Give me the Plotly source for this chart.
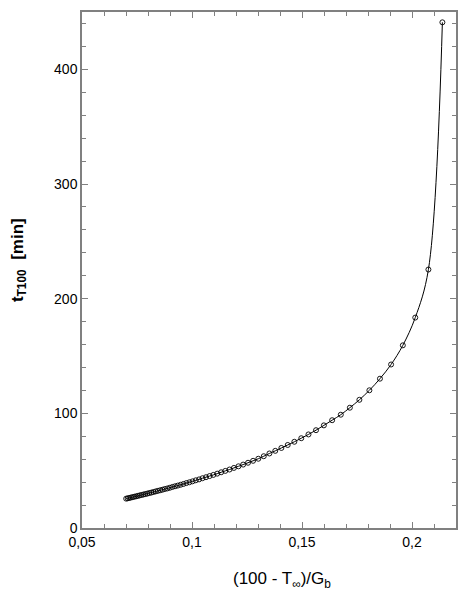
import plotly.graph_objects as go

x_vals = [0.07008, 0.07079, 0.07151, 0.07225, 0.07301, 0.07378, 0.07457, 0.07537,
          0.07619, 0.07703, 0.07789, 0.07877, 0.07967, 0.08059, 0.08153, 0.08249,
          0.08348, 0.08449, 0.08552, 0.08658, 0.08767, 0.08878, 0.08993, 0.09110,
          0.09230, 0.09354, 0.09481, 0.09611, 0.09746, 0.09884, 0.10025, 0.10171,
          0.10322, 0.10477, 0.10636, 0.10801, 0.10970, 0.11145, 0.11326, 0.11513,
          0.11706, 0.11905, 0.12112, 0.12325, 0.12547, 0.12776, 0.13014, 0.13262,
          0.13518, 0.13785, 0.14063, 0.14352, 0.14653, 0.14967, 0.15294, 0.15637,
          0.15995, 0.16370, 0.16763, 0.17175, 0.17608, 0.18063, 0.18543, 0.19049,
          0.19583, 0.20148, 0.20746, 0.21381]

t_vals = [25.6, 25.9, 26.2, 26.6, 26.9, 27.3, 27.6, 28.0,
          28.4, 28.8, 29.2, 29.6, 30.0, 30.5, 30.9, 31.4,
          31.9, 32.4, 32.9, 33.4, 34.0, 34.5, 35.1, 35.8,
          36.4, 37.0, 37.7, 38.4, 39.2, 39.9, 40.7, 41.6,
          42.4, 43.4, 44.3, 45.3, 46.3, 47.4, 48.6, 49.8,
          51.0, 52.4, 53.8, 55.3, 56.9, 58.6, 60.4, 62.6,
          65.0, 67.3, 69.8, 72.4, 75.2, 78.3, 81.6, 85.3,
          89.5, 94.0, 98.8, 104.9, 111.8, 120.1, 130.2, 142.6,
          159.3, 183.5, 225.4, 441.0]

x_ticks = [0.05, 0.1, 0.15, 0.2]
x_ticklabels = ["0,05", "0,1", "0,15", "0,2"]
y_ticks = [0, 100, 200, 300, 400]

fig = go.Figure()
fig.add_trace(go.Scatter(
    x=x_vals, y=t_vals, mode="lines+markers",
    line=dict(color="black", width=1, shape="spline"),
    marker=dict(symbol="circle-open", size=5, color="black", line=dict(width=0.9)),
    showlegend=False,
))

axis_common = dict(
    showgrid=False, zeroline=False, showline=True, linecolor="#808080", linewidth=1.5,
    mirror="ticks", ticks="inside", ticklen=6, tickwidth=1, tickcolor="#808080",
    tickfont=dict(family="Liberation Sans, Arial, sans-serif", size=14, color="black"),
)

fig.update_xaxes(range=[0.05, 0.22], tickvals=x_ticks, ticktext=x_ticklabels,
                 minor=dict(dtick=0.01, ticks="inside", ticklen=4, tickcolor="#808080", tickwidth=1),
                 **axis_common)
fig.update_yaxes(range=[0, 450], tickvals=y_ticks,
                 minor=dict(dtick=20, ticks="inside", ticklen=4, tickcolor="#808080", tickwidth=1),
                 **axis_common)

fig.add_annotation(
    text="(100 - T<sub>∞</sub>)/G<sub>b</sub>", xref="paper", yref="paper",
    x=0.535, y=-0.1, xanchor="center", yanchor="middle", showarrow=False,
    font=dict(family="Liberation Sans, Arial, sans-serif", size=17, color="black"),
)
fig.add_annotation(
    text="<b>t<sub>T100</sub>  [min]</b>", xref="paper", yref="paper",
    x=-0.17, y=0.52, xanchor="center", yanchor="middle", showarrow=False, textangle=-90,
    font=dict(family="Liberation Sans, Arial, sans-serif", size=17, color="black"),
)

fig.update_layout(
    width=472, height=588, separators=",.",
    margin=dict(l=74, r=24, t=2, b=68),
    paper_bgcolor="white", plot_bgcolor="white",
)

fig.write_html("out.html")
